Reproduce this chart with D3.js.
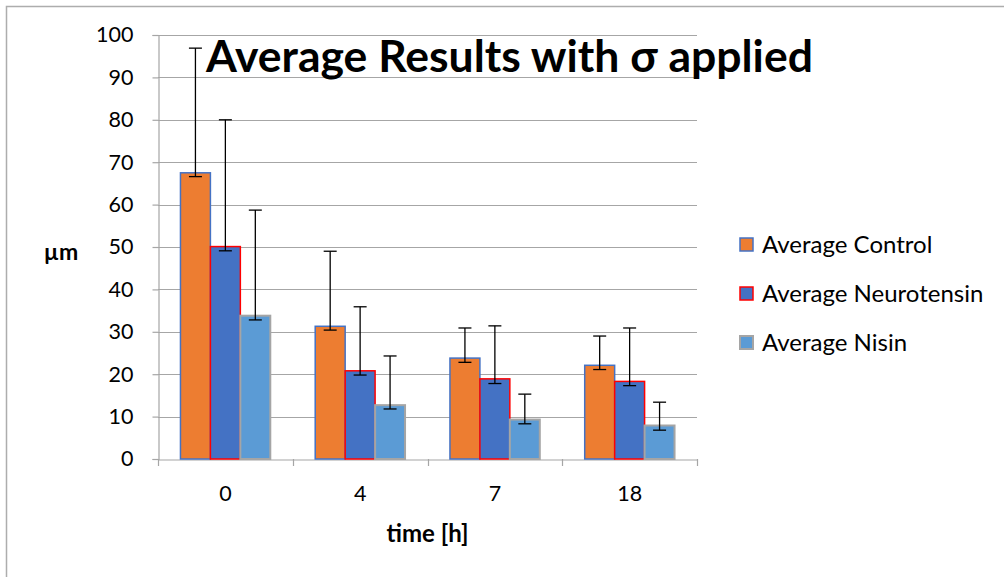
<!DOCTYPE html>
<html><head><meta charset="utf-8">
<script src="https://cdn.jsdelivr.net/npm/d3@7"></script>
<style>body{margin:0;background:#fff}svg{display:block;font-family:Lato,"Open Sans",sans-serif}</style>
</head><body><svg id="c" width="1004" height="577"></svg>
<script>
const categories = ["0","4","7","18"];
const seriesNames = ["Average Control","Average Neurotensin","Average Nisin"];
const control = [67.5, 31.3, 23.8, 22.1];
const neurotensin = [50.1, 20.8, 18.9, 18.3];
const nisin = [33.8, 12.7, 9.3, 7.9];
const errPlusControl = [29.4, 17.7, 7.1, 6.9];
const errPlusNeurotensin = [29.9, 15.1, 12.5, 12.6];
const errPlusNisin = [24.9, 11.6, 6.0, 5.5];
const errMinusControl = [0.9, 0.9, 1.0, 1.0];
const errMinusNeurotensin = [1.0, 1.0, 1.1, 1.0];
const errMinusNisin = [1.0, 0.9, 1.0, 1.1];
const yTicks = [0,10,20,30,40,50,60,70,80,90,100];
const title = "Average Results with σ applied";
const yTitle = "µm";
const xTitle = "time [h]";

const series = [
  {name: seriesNames[0], values: control, plus: errPlusControl, minus: errMinusControl, fill: "#ED7D31", stroke: "#4472C4", sw: 1.5},
  {name: seriesNames[1], values: neurotensin, plus: errPlusNeurotensin, minus: errMinusNeurotensin, fill: "#4472C4", stroke: "#FF0000", sw: 1.5},
  {name: seriesNames[2], values: nisin, plus: errPlusNisin, minus: errMinusNisin, fill: "#5B9BD5", stroke: "#A5A5A5", sw: 2}
];

const svg = d3.select("#c");
svg.append("rect").attr("x",6.5).attr("y",6.5).attr("width",1010).attr("height",600)
  .attr("fill","#fff").attr("stroke","#ADADAD").attr("stroke-width",1.5);

const L = 158, R = 697, T = 35, B = 459;
const x = d3.scaleBand().domain(categories).range([L, R]).paddingInner(0).paddingOuter(0);
const y = d3.scaleLinear().domain([0,100]).range([B, T]);
const groupW = x.bandwidth() * 3 / 4.5;
const xs = d3.scaleBand().domain(seriesNames).range([0, groupW]);
const off = (x.bandwidth() - groupW) / 2;

// gridlines
svg.append("g").selectAll("line").data(yTicks.filter(d=>d>0)).join("line")
  .attr("x1", L).attr("x2", R).attr("y1", d=>Math.round(y(d))+0.5).attr("y2", d=>Math.round(y(d))+0.5)
  .attr("stroke","#A6A6A6").attr("stroke-width",1.2);

// y axis
const yAxis = svg.append("g").attr("transform",`translate(${L+0.5},0)`)
  .call(d3.axisLeft(y).tickValues(yTicks).tickSize(6).tickPadding(19));
yAxis.select(".domain").attr("stroke","#A6A6A6").attr("stroke-width",1.2);
yAxis.selectAll(".tick line").attr("stroke","#A6A6A6").attr("stroke-width",1.2);
yAxis.selectAll(".tick text").attr("font-size",21.5).attr("fill","#000").attr("font-family","Lato");

// x axis
const xAxis = svg.append("g").attr("transform",`translate(0,${B+0.5})`)
  .call(d3.axisBottom(x).tickSize(0).tickPadding(0));
xAxis.select(".domain").attr("stroke","#A6A6A6").attr("stroke-width",1.2);
xAxis.selectAll(".tick text").attr("font-size",21.5).attr("fill","#000").attr("font-family","Lato")
  .attr("dy",null).attr("y",41);
svg.append("g").selectAll("line").data(categories.map(c=>x(c)).concat([x(categories[categories.length-1])+x.bandwidth()])).join("line")
  .attr("x1",d=>Math.round(d)+0.5).attr("x2",d=>Math.round(d)+0.5).attr("y1",B).attr("y2",B+7)
  .attr("stroke","#A6A6A6").attr("stroke-width",1.2);

// bars
series.forEach(s => {
  const g = svg.append("g");
  g.selectAll("rect").data(categories).join("rect")
    .attr("x",(c)=>x(c)+off+xs(s.name))
    .attr("width", xs.bandwidth())
    .attr("y",(c,i)=>y(s.values[i]))
    .attr("height",(c,i)=>B - y(s.values[i]))
    .attr("fill", s.fill).attr("stroke", s.stroke).attr("stroke-width", s.sw);
});

// error bars
series.forEach(s => {
  const g = svg.append("g").attr("stroke","#000").attr("stroke-width",1.3);
  categories.forEach((c,i) => {
    const cx = x(c)+off+xs(s.name)+xs.bandwidth()/2;
    const y1 = y(s.values[i]+s.plus[i]), y0 = y(s.values[i]-s.minus[i]);
    g.append("line").attr("x1",cx).attr("x2",cx).attr("y1",y1).attr("y2",y0);
    g.append("line").attr("x1",cx-6.5).attr("x2",cx+6.5).attr("y1",y1).attr("y2",y1);
    g.append("line").attr("x1",cx-6.5).attr("x2",cx+6.5).attr("y1",y0).attr("y2",y0);
  });
});

// title
svg.append("text").attr("x",206).attr("y",72).attr("font-size",44.5).attr("font-weight","bold")
  .attr("font-family","Lato").attr("fill","#000").text(title);

// axis titles
svg.append("text").attr("x",61).attr("y",260).attr("text-anchor","middle").attr("font-size",23)
  .attr("font-weight","bold").attr("font-family","Lato").text(yTitle);
svg.append("text").attr("x",(L+R)/2).attr("y",542).attr("text-anchor","middle").attr("font-size",24)
  .attr("font-weight","bold").attr("font-family","Lato").text(xTitle);

// legend
const lg = svg.append("g");
series.forEach((s,i) => {
  const cy = 245 + i*49;
  lg.append("rect").attr("x",740).attr("y",cy-7).attr("width",13).attr("height",13)
    .attr("fill",s.fill).attr("stroke",s.stroke).attr("stroke-width",s.sw);
  lg.append("text").attr("x",762).attr("y",cy+8).attr("font-size",24).attr("font-family","Lato")
    .attr("fill","#000").text(s.name);
});
</script></body></html>
